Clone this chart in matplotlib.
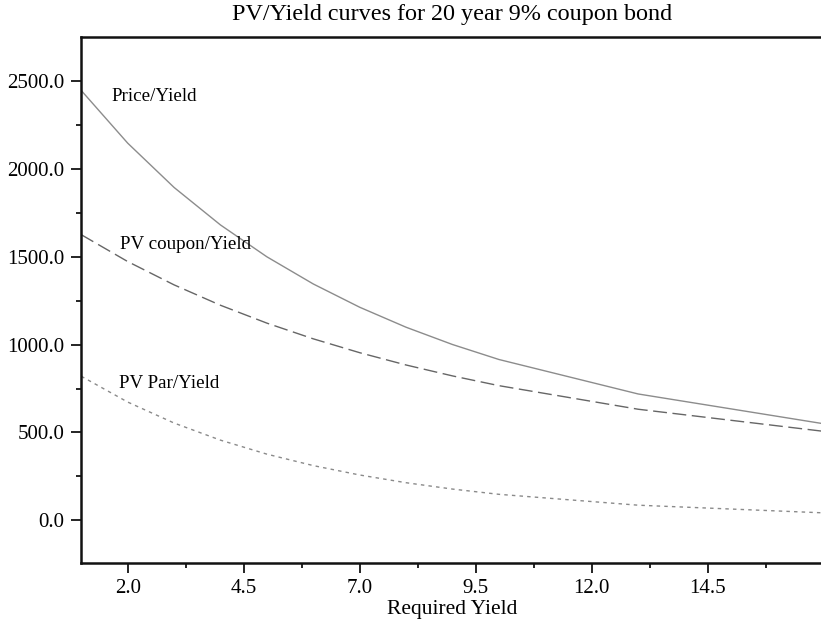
'''
    PV / yield curves of a 20 year 9% coupon bond
'''

import matplotlib
matplotlib.use("Agg")
import matplotlib.pyplot as plt
from matplotlib.ticker import FixedLocator, FormatStrFormatter

# required yield (%) and present values
yields = [1, 2, 3, 4, 5, 6, 7, 8, 9, 10, 13, 17]
price = [2443.6, 2144.6, 1892.7, 1679.5, 1498.5, 1344.1, 1211.9, 1098.2,
         1000.0, 914.9, 719.0, 549.6]
pv_coupon = [1624.1, 1471.6, 1339.0, 1223.1, 1121.6, 1032.3, 953.5, 883.6,
             821.6, 766.2, 632.2, 506.5]
pv_par = [819.5, 673.0, 553.7, 456.4, 376.9, 311.8, 258.4, 214.5,
          178.4, 148.6, 86.8, 43.1]

xticks = [2.0, 4.5, 7.0, 9.5, 12.0, 14.5]
xminor = [3.25, 5.75, 8.25, 10.75, 13.25, 15.75]
yticks = [0, 500, 1000, 1500, 2000, 2500]
yminor = [250, 750, 1250, 1750, 2250]


def main():
    plt.rcParams["font.family"] = ["Liberation Serif", "DejaVu Serif"]
    plt.rcParams["font.size"] = 13.5

    fig = plt.figure(figsize=(8.21, 6.28), dpi=100)
    ax = fig.add_axes([0.099, 0.104, 0.9043, 0.8363])

    ax.plot(yields, price, "-", color="#8c8c8c", lw=1.0)
    ax.plot(yields, pv_coupon, color="#666666", lw=1.0, dashes=(10, 4))
    ax.plot(yields, pv_par, color="#8a8a8a", lw=1.0, dashes=(2.5, 3))

    ax.text(1.66, 2407, "Price/Yield", ha="left", va="center", fontsize=13.7)
    ax.text(1.84, 1567, "PV coupon/Yield", ha="left", va="center", fontsize=13.7)
    ax.text(1.82, 777, "PV Par/Yield", ha="left", va="center", fontsize=13.7)

    ax.set_xlim(1.0, 17.0)
    ax.set_ylim(-240, 2745)

    ax.xaxis.set_major_locator(FixedLocator(xticks))
    ax.xaxis.set_minor_locator(FixedLocator(xminor))
    ax.yaxis.set_major_locator(FixedLocator(yticks))
    ax.yaxis.set_minor_locator(FixedLocator(yminor))
    ax.xaxis.set_major_formatter(FormatStrFormatter("%.1f"))
    ax.yaxis.set_major_formatter(FormatStrFormatter("%.1f"))

    ax.tick_params(which="major", length=7, width=1.2, direction="out",
                   pad=5, labelsize=15)
    ax.tick_params(which="minor", length=3.5, width=1.2, direction="out")

    for side in ["left", "bottom", "top"]:
        ax.spines[side].set_linewidth(1.8)
        ax.spines[side].set_color("#111111")
    ax.spines["right"].set_visible(False)

    ax.set_title("PV/Yield curves for 20 year 9% coupon bond",
                 fontsize=17.4, pad=12.5)
    ax.set_xlabel("Required Yield", fontsize=15.5, labelpad=1)

    fig.savefig("out.png", dpi=100)


if __name__ == "__main__":
    main()
